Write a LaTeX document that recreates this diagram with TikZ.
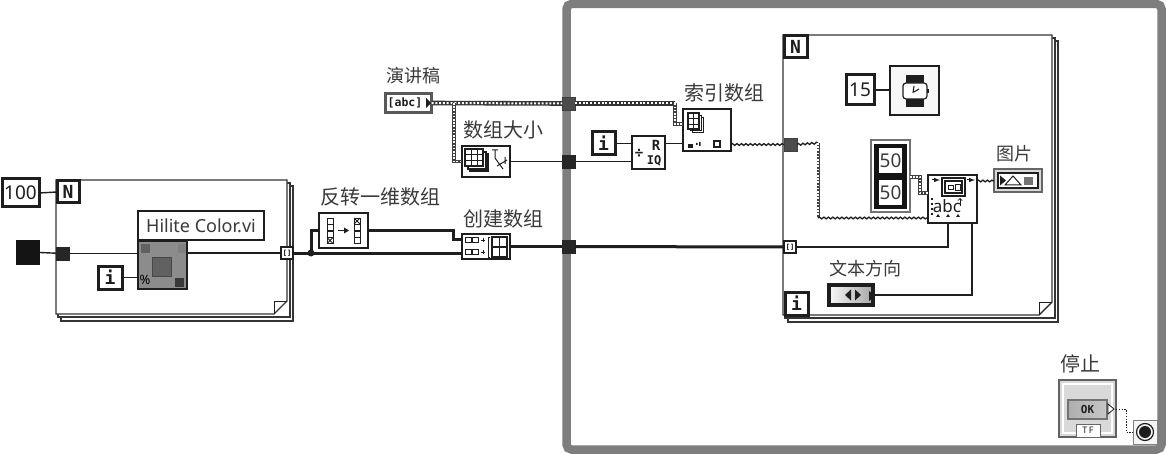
\documentclass[tikz,border=0pt]{standalone}
\usepackage{fontspec}
\setmainfont{Noto Sans}
\newfontfamily\cjk{Noto Sans CJK SC}
\newfontfamily\djm{DejaVu Sans Mono}
\usetikzlibrary{decorations.pathmorphing,shadings}
\definecolor{ink}{HTML}{1E1E1E}
\definecolor{txt}{HTML}{3A3A3A}
\definecolor{struct}{HTML}{7E7E7E}
\newcommand{\pbox}[7]{%
  \pgfmathsetmacro\pcx{(#3+#5)/2}\pgfmathsetmacro\pcy{(#4+#6)/2}%
  \pgfmathsetmacro\pbw{#5-#3}\pgfmathsetmacro\pbh{#6-#4}%
  \node[#1,minimum width=\pbw pt,minimum height=\pbh pt] (#2) at (\pcx,\pcy) {#7};}
\newcommand{\loopframe}[4]{% x1 y1 x2 y2
  \draw[framel,fill=white] (#1+5,#2+6) rectangle (#3+6,#4+7);
  \draw[framel,fill=white] (#1+2,#2+3) rectangle (#3+3,#4+3);
  \draw[framel,fill=white] (#1,#2) -- (#3,#2) -- (#3,#4-13) -- (#3-13,#4) -- (#1,#4) -- cycle;
  \draw[line width=1pt,ink] (#3,#4-13) -- (#3-13,#4-13) -- (#3-13,#4);}
\tikzset{
  x=1pt,y=-1pt,
  every node/.style={inner sep=0pt,outer sep=0pt},
  framel/.style={draw=ink!90,line width=1.4pt},
  wirethin/.style={draw=ink,line width=1.4pt},
  wirethick/.style={draw=ink,line width=3pt},
  wirestr/.style={draw=black!80,line width=4.6pt,postaction={draw=white,line width=2pt,dash pattern=on 2pt off 1.8pt}},
  wirebar/.style={draw=black!75,line width=3.6pt,postaction={draw=white,line width=1.5pt,dash pattern=on 1.6pt off 1.6pt}},
  wirewave/.style={draw=ink,line width=1.3pt,decorate,decoration={snake,amplitude=.9pt,segment length=4.5pt}},
  wiredot/.style={draw=ink,line width=1pt,dash pattern=on 1.3pt off 1.5pt},
  tunnel/.style={fill=black!85,draw=black!85,line width=.5pt},
  tunnelg/.style={fill=black!70,draw=black!75,line width=.5pt},
  indexT/.style={fill=white,draw=ink,line width=1.6pt},
  term/.style={fill=white,draw=ink,line width=3pt,text=ink},
  termb/.style={term,font=\djm\bfseries\fontsize{18}{18}\selectfont},
  func/.style={fill=white,draw=ink,line width=1.5pt},
  lab/.style={text=txt,font=\cjk\fontsize{18}{18}\selectfont},
  labb/.style={text=txt,font=\cjk\fontsize{20}{20}\selectfont},
  num/.style={font=\fontsize{19}{19}\selectfont},
  thin icon/.style={draw=ink,line width=.9pt},
}
\begin{document}
\begin{tikzpicture}
\useasboundingbox (0,0) rectangle (1166,454);
\fill[white] (0,0) rectangle (1166,454);
% while loop
\draw[draw=struct,line width=8.5pt,rounded corners=5pt] (566.5,4) rectangle (1161.5,449.5);
% for loops
\loopframe{56}{180}{287}{314}
\loopframe{783}{35}{1052}{315}
% nodes
\pbox{term,num}{n100}{2}{179}{39}{207}{100}
\pbox{termb}{nA}{57}{181}{79}{203}{N}
\pbox{fill=black!92}{color}{16}{240}{40}{265}{}
\pbox{tunnel}{tA}{56}{247}{69}{260}{}
\pbox{fill=white,draw=ink,line width=1.2pt,font=\fontsize{18}{18}\selectfont,text=txt}{hname}{138}{211}{264}{240}{Hilite Color.vi}
\pbox{fill=black!45,draw=ink,line width=1.2pt}{hvi}{138}{241}{187}{289}{}
\pbox{termb}{iA}{98}{266}{122}{289}{i}
\pbox{indexT}{tB}{281}{247}{293}{259}{}
\node[font=\djm\bfseries\fontsize{7}{7}\selectfont] (tBt) at (tB) {[]};
\coordinate (jB) at (311,253);
\pbox{func}{rev}{319}{213}{368}{248}{}
\pbox{func}{build}{462}{234}{510}{259}{}
\pbox{func}{asize}{462}{146}{510}{177}{}
\pbox{fill=white,draw=black!65,line width=3.4pt}{sctl}{385.5}{93.5}{431.5}{112.5}{}
\node[font=\djm\bfseries\fontsize{11.5}{11.5}\selectfont,text=ink] (sctlT) at (405,103) {[abc]};
\pbox{tunnelg}{t1}{562}{97}{575}{110}{}
\pbox{tunnel}{t2}{562}{155}{575}{168}{}
\pbox{tunnel}{t3}{562}{240}{575}{253}{}
\pbox{termb}{iB}{592}{132}{615}{155}{i}
\pbox{func}{quot}{632}{136}{665}{169}{}
\pbox{func}{idx}{683}{109}{731}{151}{}
\pbox{termb}{nB}{784}{36}{807}{58}{N}
\pbox{term,num}{n15}{846}{75}{874}{105}{15}
\pbox{fill=black!3,draw=ink,line width=1.3pt}{timer}{890}{66}{939}{115}{}
\pbox{tunnelg}{t4}{784}{138}{797}{151}{}
\pbox{indexT}{t5}{784}{241}{796}{253}{}
\node[font=\djm\bfseries\fontsize{7}{7}\selectfont] (t5t) at (t5) {[]};
\pbox{fill=white,draw=black!55,line width=2pt}{arrO}{871}{140}{910}{212}{}
\pbox{fill=black!92}{arrI}{874}{144}{907}{209}{}
\pbox{fill=white,num,text=txt}{a50}{879}{148}{902}{173}{50}
\pbox{fill=white,num,text=txt}{b50}{879}{180}{902}{205}{50}
\pbox{func}{dtext}{928}{175}{977}{223}{}
\pbox{fill=black!15,draw=black!60,line width=1.4pt}{pic}{994}{169}{1042}{192}{}
\pbox{fill=white,draw=ink,line width=1.2pt}{picI}{998}{173}{1038}{188}{}
\pbox{left color=black!3,right color=black!35,draw=ink,line width=3.6pt}{enum}{829}{285}{873}{305}{}
\pbox{termb}{iC}{785}{292}{808}{315}{i}
\pbox{fill=black!15,draw=black!62,line width=2.6pt}{stopc}{1059}{380}{1116}{437}{}
\draw[white,line width=1.2pt] (1063,384) rectangle (1112,433);
\pbox{left color=black!32,right color=black!22,draw=black!55,line width=2pt,font=\djm\bfseries\fontsize{11}{11}\selectfont,text=ink}{okb}{1068}{400}{1107}{419}{OK}
\pbox{fill=white,draw=black!60,line width=1pt,font=\fontsize{9}{9}\selectfont,text=ink}{tf}{1076}{424}{1100}{437}{T\,F}
\pbox{fill=black!4,draw=black!50,line width=.8pt}{stopT}{1133}{420}{1157}{444}{}
% wires
\coordinate (jS) at (454,103);
\coordinate (cS) at (675,124);
\coordinate (cA) at (453,240);
\coordinate (cW) at (818,143);
\coordinate (cWb) at (818,218);
\coordinate (cR) at (920,177);
\coordinate (cRb) at (920,193);
\coordinate (cStop) at (1126,409);
\draw[wirethin] (n100.east) -- (nA.west);
\draw[wirethin] (color.east) -- (tA);
\draw[wirethin] (tA) -- (hvi.west |- tA);
\draw[wirethin] (iA.east) -- (hvi.west |- iA);
\draw[wirethin] (hvi.east |- tB) -- (tB.west);
\draw[wirethick] (tB.east) -- (build.west |- jB);
\draw[wirethick] (jB) |- (rev.west);
\draw[wirethick] (rev.east) -| (cA) -- (build.west |- cA);
\fill[ink] (jB) circle (3.5pt);
\draw[wirethick] (build.east) -- (t3);
\draw[wirethick] (t3) -- (t5.west);
\draw[wirestr] (sctl.east) -- (t1.west);
\draw[wirebar] (jS) |- (asize.west);
\draw[wirethin] (asize.east) -- (t2);
\draw[wirethin] (t2) -- (quot.west |- t2);
\draw[wirethin] (iB.east) -- (quot.west |- iB);
\draw[wirethin] (quot.east |- iB) -- (idx.west |- iB);
\draw[wirestr] (t1.east) -- (cS |- t1);
\draw[wirebar] (cS |- t1) -- (cS) -- (idx.west |- cS);
\draw[wirewave] (idx.east |- t4) -- (t4.west);
\draw[wirewave] (t4.east) -- (cW);
\draw[wirebar,line width=3pt] (cW) -- (cWb);
\draw[wirewave] (cWb) -- (dtext.west |- cWb);
\draw[wirethin] (n15.east) -- (timer.west |- n15);
\draw[wirebar,line width=4pt] (arrO.east |- cR) -- (cR) -- (cRb) -- (dtext.west |- cRb);
\draw[wirewave] (977,181) -- (pic.west |- 0,181);
\draw[wirethin] (t5.east) -| (dtext.south -| 948,0);
\draw[wirethin] (enum.east) -| (dtext.south -| 972,0);
\draw[wiredot] (stopc.east |- cStop) -- (cStop) |- (stopT.west);
% Hilite VI icon
\fill[black!62] (141,244) rectangle (150,253);
\fill[black!50] (178,244) rectangle (186,253);
\fill[black!62,draw=black!72] (152,257) rectangle (171,276);
\fill[black!78] (175,278) rectangle (184,287);
\node[font=\bfseries\fontsize{13}{13}\selectfont,text=black] (pct) at (145,280) {\%};
% reverse icon
\foreach \yy in {218,224.5,231,237.5}{
  \draw[thin icon,fill=white] (327,\yy) rectangle (333,\yy+6);
  \draw[thin icon,fill=white] (354,\yy) rectangle (360,\yy+6);}
\draw[ink,line width=1pt] (327,237.5) -- (333,243.5) (333,237.5) -- (327,243.5);
\draw[ink,line width=1pt] (354,218) -- (360,224) (360,218) -- (354,224);
\fill[ink] (349,230.5) -- (344,227.5) -- (344,233.5) -- cycle;
\draw[ink,line width=1pt] (338,230.5) -- (345,230.5);
% build array icon
\foreach \yy in {240,252}{
  \draw[thin icon] (465,\yy-2.5) rectangle (471,\yy+2.5) (472,\yy-2.5) rectangle (478,\yy+2.5);
  \draw[ink,line width=.9pt] (481,\yy) -- (485,\yy) (483,\yy-2) -- (483,\yy+2);}
\draw[ink,line width=1pt] (490,238) -- (488,238) -- (488,257) -- (490,257);
\draw[ink,line width=1.2pt] (492,237) rectangle (507,257) (499.5,237) -- (499.5,257) (492,247) -- (507,247);
% array size icon
\foreach \dd in {4,2}{\draw[ink,line width=1.1pt,fill=white] (466+\dd,150+\dd) rectangle (484+\dd,167+\dd);}
\draw[ink,line width=1.2pt,fill=white] (465,149) rectangle (483,166);
\draw[ink,line width=1pt] (471,149) -- (471,166) (477,149) -- (477,166) (465,155) -- (483,155) (465,161) -- (483,161);
\draw[ink,line width=1pt] (492,150) -- (498,150) (495,150) -- (495,158) -- (503,169) (497,166) -- (507,160) (505,157) -- (505,164);
% string control
\fill[ink] (431,103) -- (426,98) -- (426,108) -- cycle;
% quotient icon
\node[font=\djm\bfseries\fontsize{14}{14}\selectfont,text=ink] (qd) at (639,153) {÷};
\node[font=\djm\bfseries\fontsize{14}{14}\selectfont,text=ink] (qr) at (656,145) {R};
\node[font=\djm\bfseries\fontsize{12}{12}\selectfont,text=ink] (qi) at (654,161) {IQ};
% index icon
\foreach \dd in {4,2}{\draw[ink,line width=1pt,fill=white] (688+\dd,114+\dd) rectangle (699+\dd,129+\dd);}
\draw[ink,line width=1.2pt,fill=white] (688,113) rectangle (699,129);
\draw[ink,line width=.9pt] (693.5,113) -- (693.5,129) (688,118.5) -- (699,118.5) (688,124) -- (699,124);
\fill[ink] (688,144) rectangle (693,148);
\fill[ink] (696,143) rectangle (697.5,145) (699,142) rectangle (700.5,146);
\draw[ink,line width=1.1pt,fill=white] (714,141) rectangle (720,147);
% timer icon
\fill[ink] (906,75) rectangle (924,107);
\draw[ink,line width=1.2pt,fill=white,rounded corners=3pt] (903,83) rectangle (927,99);
\fill[ink] (927,89) rectangle (929,93);
\draw[ink,line width=1.1pt] (913,93) -- (914,86) (914,92) -- (919,89);
% draw-text icon
\draw[ink,line width=1.2pt] (942,178) rectangle (965,196);
\draw[ink,line width=1.1pt,fill=white] (945,181) rectangle (962,193);
\draw[ink,line width=.8pt] (948,185) rectangle (953,189) (955,184) rectangle (960,190);
\draw[ink,line width=1pt,-{latex}] (932,180) -- (940,180);
\draw[ink,line width=1pt,-{latex}] (967,180) -- (975,180);
\node[font=\fontsize{17}{17}\selectfont,text=ink] (abc) at (947,206) {abc};
\foreach \yy in {198,203,208,213}{\fill[ink] (931,\yy) rectangle (933,\yy+2);}
\foreach \xx in {936,946,956}{\fill[ink] (\xx,217) -- (\xx+4,217) -- (\xx+2,214) -- cycle;}
\draw[ink,line width=.9pt,->] (960,206) -- (960,198);
% picture icon
\fill[ink] (1006,180.5) -- (1000,175.5) -- (1000,185.5) -- cycle;
\draw[ink,line width=1pt] (1013,176) -- (1005,185) -- (1021,185) -- cycle;
\fill[black!55] (1024,177) rectangle (1033,185);
% enum icon
\fill[ink] (845,295) -- (851,289.5) -- (851,300.5) -- cycle;
\fill[ink] (861,295) -- (855,289.5) -- (855,300.5) -- cycle;
\fill[ink] (875,296) -- (869,291) -- (869,301) -- cycle;
% stop control arrow
\fill[white,draw=ink,line width=.8pt] (1114,409) -- (1108,404) -- (1108,414) -- cycle;
% stop terminal
\draw[ink,line width=1.2pt] (1145,432) circle (8.5pt);
\fill[ink] (1145,432) circle (6pt);
% labels
\node[lab] (l1) at (413,76) {演讲稿};
\node[labb] (l2) at (503,130) {数组大小};
\node[labb] (l3) at (380,197) {反转一维数组};
\node[labb] (l4) at (503,219) {创建数组};
\node[labb] (l5) at (724,93) {索引数组};
\node[lab] (l6) at (1014,154) {图片};
\node[lab] (l7) at (865,269) {文本方向};
\node[labb] (l8) at (1080,364) {停止};
\end{tikzpicture}
\end{document}
